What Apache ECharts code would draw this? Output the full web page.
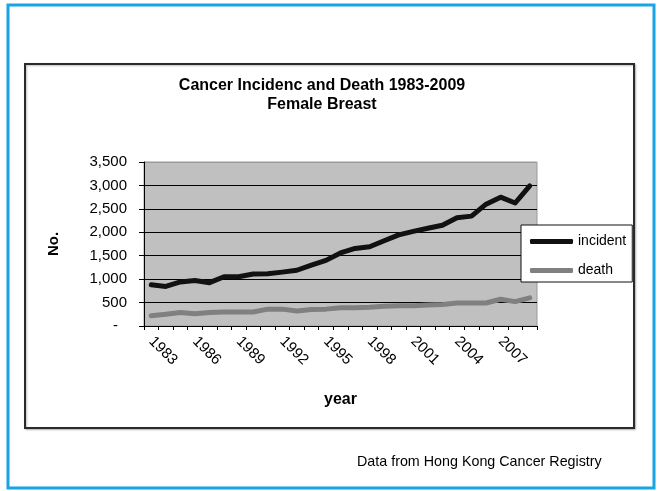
<!DOCTYPE html>
<html>
<head>
<meta charset="utf-8">
<style>
  html, body { margin: 0; padding: 0; background: #fff; }
  #chart { width: 657px; height: 491px; }
</style>
<script src="https://cdn.jsdelivr.net/npm/echarts@6/dist/echarts.min.js"></script>
</head>
<body>
<div id="chart"></div>
<script>
// Hong Kong female breast cancer: new cases and deaths per year
const years = ['1983','1984','1985','1986','1987','1988','1989','1990','1991','1992',
  '1993','1994','1995','1996','1997','1998','1999','2000','2001','2002',
  '2003','2004','2005','2006','2007','2008','2009'];
const incident = [880, 845, 940, 970, 925, 1050, 1050, 1110, 1115, 1150,
  1190, 1300, 1400, 1560, 1655, 1690, 1820, 1945, 2020, 2085,
  2150, 2310, 2345, 2600, 2750, 2625, 2990];
const death = [220, 250, 290, 260, 290, 300, 300, 300, 360, 360,
  320, 350, 360, 390, 390, 400, 420, 430, 430, 450,
  460, 490, 490, 490, 570, 520, 600];
const yTicks = { min: 0, max: 3500, step: 500 };

const FONT = '"Liberation Sans", Arial, sans-serif';

const chart = echarts.init(document.getElementById('chart'), null, { renderer: 'canvas' });

chart.setOption({
  backgroundColor: '#ffffff',
  animation: false,
  title: {
    text: 'Cancer Incidenc and Death 1983-2009\nFemale Breast',
    left: 317,
    top: 71,
    textAlign: 'center',
    textStyle: { fontFamily: FONT, fontSize: 16, fontWeight: 'bold', color: '#000', lineHeight: 19 }
  },
  legend: {
    orient: 'vertical',
    left: 521,
    top: 225,
    padding: [9, 6, 4, 9],
    itemGap: 14,
    itemWidth: 43,
    itemHeight: 5,
    icon: 'roundRect',
    backgroundColor: '#fff',
    borderColor: '#111',
    borderWidth: 1,
    textStyle: { fontFamily: FONT, fontSize: 14, color: '#000', lineHeight: 15 },
    data: ['incident', 'death']
  },
  grid: {
    left: 144,
    top: 162,
    width: 393,
    height: 164,
    show: true,
    backgroundColor: '#c0c0c0',
    borderColor: '#9a9a9a',
    borderWidth: 1
  },
  xAxis: {
    type: 'category',
    data: years,
    boundaryGap: true,
    name: 'year',
    nameLocation: 'middle',
    nameGap: 66,
    nameTextStyle: { fontFamily: FONT, fontSize: 16, fontWeight: 'bold', color: '#000' },
    axisLine: { lineStyle: { color: '#000', width: 1 } },
    axisTick: { show: true, interval: 0, length: 4, lineStyle: { color: '#000' } },
    axisLabel: {
      interval: 2,
      rotate: -45,
      margin: 13,
      fontFamily: FONT,
      fontSize: 15,
      color: '#000'
    },
    splitLine: { show: false }
  },
  yAxis: {
    type: 'value',
    min: yTicks.min,
    max: yTicks.max,
    interval: yTicks.step,
    name: 'No.',
    nameLocation: 'middle',
    nameGap: 83,
    nameTextStyle: { fontFamily: FONT, fontSize: 15, fontWeight: 'bold', color: '#000' },
    axisLine: { show: true, lineStyle: { color: '#000', width: 1 } },
    axisTick: { show: true, length: 5, lineStyle: { color: '#000' } },
    axisLabel: {
      margin: 17,
      fontFamily: FONT,
      fontSize: 15,
      color: '#000',
      formatter: function (v) {
        return v === 0 ? '{z|-}' : v.toLocaleString('en-US');
      },
      rich: { z: { fontFamily: FONT, fontSize: 15, color: '#000', padding: [0, 9, 0, 0] } }
    },
    splitLine: {
      show: true,
      lineStyle: { color: ['#000', '#000', '#000', '#000', '#000', '#000', '#000', '#9a9a9a'], width: 1 }
    }
  },
  series: [
    {
      name: 'incident',
      type: 'line',
      data: incident,
      symbol: 'none',
      itemStyle: { color: '#111' },
      lineStyle: { color: '#111', width: 5, cap: 'round', join: 'round' },
      z: 3
    },
    {
      name: 'death',
      type: 'line',
      data: death,
      symbol: 'none',
      itemStyle: { color: '#808080' },
      lineStyle: { color: '#808080', width: 5, cap: 'round', join: 'round' },
      z: 2
    }
  ],
  graphic: [
    {
      type: 'rect',
      shape: { x: 8, y: 5, width: 646, height: 483 },
      style: { fill: 'none', stroke: '#19a4e4', lineWidth: 3 },
      z: -10
    },
    {
      type: 'rect',
      shape: { x: 25, y: 64, width: 609, height: 364 },
      style: {
        fill: '#fff', stroke: '#2a2a2a', lineWidth: 2,
        shadowColor: 'rgba(0,0,0,0.25)', shadowBlur: 2, shadowOffsetX: 1, shadowOffsetY: 1
      },
      z: -9
    },
    {
      type: 'text',
      left: 357,
      top: 455,
      style: {
        text: 'Data from Hong Kong Cancer Registry',
        font: '14.3px "Liberation Sans", Arial, sans-serif',
        fill: '#000'
      }
    }
  ]
});
</script>
</body>
</html>
